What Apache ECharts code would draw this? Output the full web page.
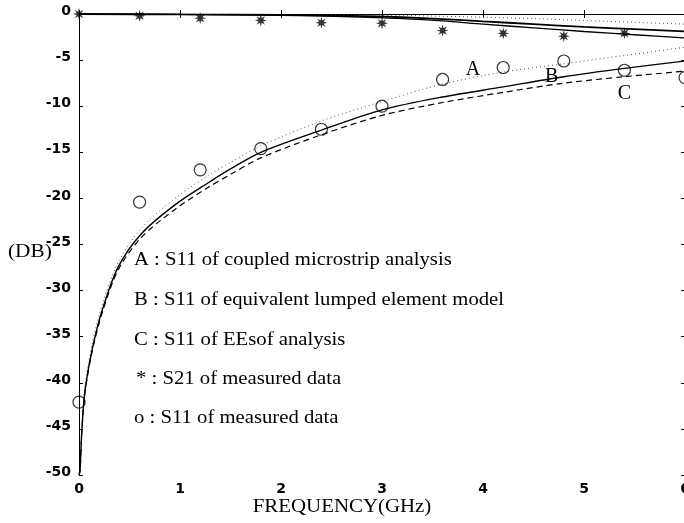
<!DOCTYPE html>
<html><head><meta charset="utf-8">
<script src="https://cdn.jsdelivr.net/npm/echarts@6/dist/echarts.min.js"></script>
<style>html,body{margin:0;padding:0;background:#fff}#c{width:684px;height:523px}</style>
</head><body><div id="c"></div>
<script>
// ---- data ----
const freqS11 = [0, 0.01, 0.03, 0.06, 0.13, 0.23, 0.39, 0.62, 0.95, 1.28, 1.5, 1.8, 2.4, 3.0, 3.6, 4.2, 4.8, 5.4, 6.0];
const s11A = [-50, -49, -44.5, -40.3, -35.8, -31.5, -26.9, -23.2, -20.0, -17.5, -16.1, -14.3, -11.6, -9.5, -7.6, -6.3, -5.4, -4.5, -3.6];
const s11B = [-50, -49.5, -44.8, -40.8, -36.4, -32.1, -27.4, -23.8, -20.7, -18.3, -16.8, -15.0, -12.6, -10.4, -9.0, -7.9, -6.8, -5.9, -5.1];
const s11C = [-50, -49.6, -45, -41, -36.6, -32.4, -27.7, -24.2, -21.2, -18.8, -17.4, -15.6, -13.1, -11.0, -9.6, -8.5, -7.5, -6.8, -6.2];
const freqS21 = [0, 1, 2, 2.7, 3.2, 3.6, 4.0, 4.5, 5.0, 5.5, 6.0];
const s21A = [0, -0.02, -0.05, -0.1, -0.15, -0.25, -0.35, -0.5, -0.7, -0.9, -1.1];
const s21B = [0, -0.05, -0.1, -0.2, -0.35, -0.55, -0.8, -1.1, -1.4, -1.65, -1.9];
const s21C = [0, -0.05, -0.15, -0.3, -0.5, -0.75, -1.1, -1.5, -1.9, -2.25, -2.6];
const measFreq = [0, 0.6, 1.2, 1.8, 2.4, 3.0, 3.6, 4.2, 4.8, 5.4, 6.0];
const measS11 = [-42.1, -20.4, -16.9, -14.6, -12.5, -10.0, -7.1, -5.8, -5.1, -6.1, -6.9];
const measS21Freq = [0, 0.6, 1.2, 1.8, 2.4, 3.0, 3.6, 4.2, 4.8, 5.4];
const measS21 = [0, -0.2, -0.45, -0.7, -0.95, -1.0, -1.8, -2.1, -2.4, -2.1];
const xTicks = [0, 1, 2, 3, 4, 5, 6];
const legendLines = [
  'A : S11 of coupled microstrip analysis',
  'B : S11 of equivalent lumped element model',
  'C : S11 of EEsof analysis',
  '* : S21 of measured data',
  'o : S11 of measured data'
];
const curveLabels = [['A', 3.9, -6.0], ['B', 4.68, -6.8], ['C', 5.4, -8.6]];

const zip = (xs, ys) => xs.map((x, i) => [x, ys[i]]);
const star = 'path://M10 0 L11.6 6.1 L17.07 2.93 L13.9 8.4 L20 10 L13.9 11.6 L17.07 17.07 L11.6 13.9 L10 20 L8.4 13.9 L2.93 17.07 L6.1 11.6 L0 10 L6.1 8.4 L2.93 2.93 L8.4 6.1 Z';
const serif = '"Liberation Serif", "Times New Roman", serif';

const chart = echarts.init(document.getElementById('c'));
const lineS = (data, type, width, color) => ({
  type: 'line', data, smooth: 0.3, showSymbol: false, symbol: 'none',
  lineStyle: { type, width, color: color || '#000' }, z: 3
});
const tickLabel = { color: '#000', fontFamily: '"DejaVu Sans", sans-serif', fontSize: 14, fontWeight: 'bold' };
const option = {
  animation: false,
  backgroundColor: '#fff',
  grid: { left: 79, top: 14, width: 606, height: 461, containLabel: false, outerBoundsMode: 'none' },
  xAxis: [{
    type: 'value', min: 0, max: 6, interval: 1, position: 'bottom',
    axisLine: { show: true, lineStyle: { color: '#000', width: 1 } },
    axisTick: { show: true, inside: true, length: 4, lineStyle: { color: '#000' } },
    axisLabel: Object.assign({ margin: 7, formatter: v => xTicks.includes(v) ? String(v) : '' }, tickLabel),
    splitLine: { show: false }
  }, {
    type: 'value', min: 0, max: 6, interval: 1, position: 'top',
    axisLine: { show: true, onZero: false, lineStyle: { color: '#000', width: 1 } },
    axisTick: { show: true, inside: true, length: 4, lineStyle: { color: '#000' } },
    axisLabel: { show: false }, splitLine: { show: false }
  }],
  yAxis: [{
    type: 'value', min: -50, max: 0, interval: 5, position: 'left',
    axisLine: { show: true, onZero: false, lineStyle: { color: '#000', width: 1 } },
    axisTick: { show: true, inside: true, length: 4, lineStyle: { color: '#000' } },
    axisLabel: Object.assign({ margin: 8, formatter: v => '{t|' + v + '}',
      rich: { t: Object.assign({ padding: [0, 0, 5, 0] }, tickLabel) } }, tickLabel),
    splitLine: { show: false }
  }, {
    type: 'value', min: -50, max: 0, interval: 5, position: 'right',
    axisLine: { show: true, onZero: false, lineStyle: { color: '#000', width: 1 } },
    axisTick: { show: true, inside: true, length: 4, lineStyle: { color: '#000' } },
    axisLabel: { show: false }, splitLine: { show: false }
  }],
  series: [
    lineS(zip(freqS11, s11A), [1, 3], 1, '#555'),
    lineS(zip(freqS11, s11B), 'solid', 1.4),
    lineS(zip(freqS11, s11C), [6, 4], 1.2),
    lineS(zip(freqS21, s21A), [1, 3], 1, '#555'),
    lineS(zip(freqS21, s21B), 'solid', 1.8),
    lineS(zip(freqS21, s21C), 'solid', 1.3),
    { type: 'scatter', data: zip(measFreq, measS11), symbol: 'circle', symbolSize: 12,
      itemStyle: { color: 'rgba(255,255,255,0)', borderColor: '#000', borderWidth: 1.2 }, z: 5 },
    { type: 'scatter', data: zip(measS21Freq, measS21), symbol: star, symbolSize: 12,
      itemStyle: { color: '#000' }, z: 5 }
  ]
};
chart.setOption(option);

const g = [];
const legendY = [260, 300, 340, 379, 418];
legendLines.forEach((t, i) => {
  g.push({ type: 'text', x: i === 3 ? 136 : 134, y: legendY[i], scaleX: 1.15,
    style: { text: t, fill: '#000', font: '18px ' + serif, verticalAlign: 'middle' } });
});
g.push({ type: 'text', x: 8, y: 252, scaleX: 1.12,
  style: { text: '(DB)', fill: '#000', font: '19px ' + serif, verticalAlign: 'middle' } });
g.push({ type: 'text', x: 342, y: 507, scaleX: 1.16,
  style: { text: 'FREQUENCY(GHz)', fill: '#000', font: '18px ' + serif, align: 'center', verticalAlign: 'middle' } });
curveLabels.forEach(([t, fx, fy]) => {
  const p = chart.convertToPixel({ xAxisIndex: 0, yAxisIndex: 0 }, [fx, fy]);
  g.push({ type: 'text', x: p[0], y: p[1], z: 10,
    style: { text: t, fill: '#000', font: '20px ' + serif, align: 'center', verticalAlign: 'middle' } });
});
chart.setOption({ graphic: g });
</script>
</body></html>
